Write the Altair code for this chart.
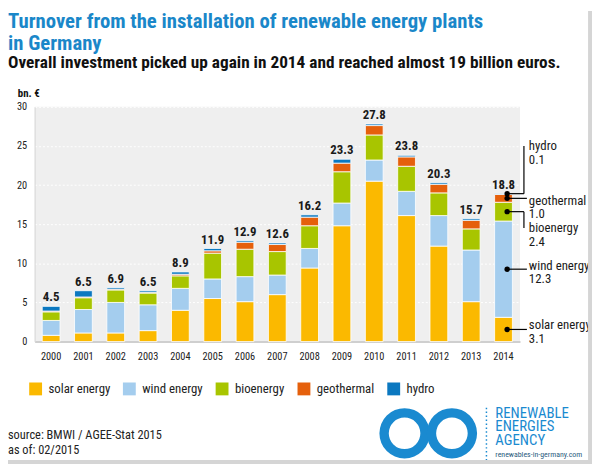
import altair as alt
import pandas as pd

# ---------------- data ----------------
years = ["2000", "2001", "2002", "2003", "2004", "2005", "2006", "2007",
         "2008", "2009", "2010", "2011", "2012", "2013", "2014"]
sources = ["solar energy", "wind energy", "bioenergy", "geothermal", "hydro"]
solar = [0.8, 1.1, 1.1, 1.4, 4.0, 5.5, 5.1, 6.0, 9.4, 14.8, 20.5, 16.1, 12.2, 5.1, 3.1]
wind = [1.9, 3.0, 3.9, 3.3, 2.8, 2.5, 3.2, 2.5, 2.5, 2.9, 2.7, 3.1, 3.9, 6.6, 12.3]
bio = [1.1, 1.5, 1.6, 1.5, 1.6, 3.3, 3.5, 3.0, 2.9, 4.0, 3.2, 3.2, 2.9, 2.7, 2.4]
geo = [0.1, 0.1, 0.1, 0.1, 0.2, 0.3, 0.9, 0.9, 1.1, 1.1, 1.2, 1.2, 1.1, 1.1, 1.0]
hydro = [0.6, 0.8, 0.2, 0.2, 0.3, 0.3, 0.2, 0.2, 0.3, 0.5, 0.2, 0.2, 0.2, 0.2, 0.1]
totals = [4.5, 6.5, 6.9, 6.5, 8.9, 11.9, 12.9, 12.6, 16.2, 23.3, 27.8, 23.8, 20.3, 15.7, 18.8]
y_ticks = [0, 5, 10, 15, 20, 25, 30]

# annotation for the last year (2014)
ann_names = ["hydro", "geothermal", "bioenergy", "wind energy", "solar energy"]
ann_values = ["0.1", "1.0", "2.4", "12.3", "3.1"]
ann_label_y = [25.0, 18.0, 14.5, 9.7, 2.1]

title1 = "Turnover from the installation of renewable energy plants"
title2 = "in Germany"
subtitle = "Overall investment picked up again in 2014 and reached almost 19 billion euros."
unit = "bn. €"
source1 = "source: BMWI / AGEE-Stat 2015"
source2 = "as of: 02/2015"
logo_lines = ["RENEWABLE", "ENERGIES", "AGENCY"]
logo_url = "renewables-in-germany.com"

colors = ["#fbb900", "#a4cdee", "#a8c500", "#e5600c", "#0b78c0"]
BLUE = "#1a87c9"
LOGO = "#1a8ad0"
FONT = "Liberation Sans Narrow, Roboto Condensed, DejaVu Sans Condensed, Roboto, sans-serif"

# ---------------- tables ----------------
series = [solar, wind, bio, geo, hydro]
rows = []
for si, (name, vals) in enumerate(zip(sources, series)):
    for yr, v in zip(years, vals):
        rows.append({"year": yr, "source": name, "value": v, "order": si})
df = pd.DataFrame(rows)

sums = [round(sum(s[i] for s in series), 2) for i in range(len(years))]
tot_df = pd.DataFrame({"year": years, "top": sums, "label": [f"{t:.1f}" for t in totals]})

# 2014 annotation geometry from the stacked values
last = [s[-1] for s in series]
cum = []
acc = 0.0
for v in last:
    cum.append((acc, acc + v))
    acc += v
dot_y = [cum[4][1], (cum[3][0] + cum[3][1]) / 2, (cum[2][0] + cum[2][1]) / 2,
         (cum[1][0] + cum[1][1]) / 2, (cum[0][0] + cum[0][1]) / 2]
ann_df = pd.DataFrame({"name": ann_names, "val": ann_values, "ly": ann_label_y, "dy": dot_y})

W, H = 492, 238
DOT_X, BEND_X, LABEL_X = 479, 496, 501

yscale = alt.Scale(domain=[0, 30], nice=False)
yaxis = alt.Axis(title=None, values=y_ticks, ticks=False, domain=True,
                 domainColor="#d6d6d6", labelPadding=8, labelFontSize=10.5,
                 labelColor="#222222", labelFont=FONT, grid=True,
                 labelOverlap=False,
                 gridColor="white", gridDash=[2, 2], gridWidth=1)
xscale = alt.Scale(paddingInner=0.45, paddingOuter=0.235)
xaxis = alt.Axis(title=None, labelAngle=0, ticks=False, domain=True,
                 domainColor="#cfcfcf", domainWidth=2, labelPadding=10,
                 labelFontSize=10.5, labelColor="#222222", labelFont=FONT)


def Y(field, **kw):
    return alt.Y(field, scale=yscale, axis=yaxis, **kw)


def X(field):
    return alt.X(field, sort=years, scale=xscale, axis=xaxis)


bars = alt.Chart(df).mark_bar(stroke="white", strokeWidth=0.8).encode(
    x=X("year:N"),
    y=Y("value:Q", stack="zero"),
    color=alt.Color("source:N",
                    scale=alt.Scale(domain=sources, range=colors),
                    legend=alt.Legend(title=None, orient="none", legendX=-6, legendY=279,
                                      direction="horizontal", symbolType="square",
                                      symbolSize=170, symbolStrokeWidth=0,
                                      labelFontSize=13, labelFont=FONT, labelColor="#222222",
                                      columnPadding=12, labelOffset=6)),
    order=alt.Order("order:Q"),
)

tot_text = alt.Chart(tot_df).mark_text(fontWeight="bold", fontSize=13, font=FONT,
                                        color="#1a1a1a", dy=-5, baseline="alphabetic").encode(
    x=X("year:N"), y=Y("top:Q"), text="label:N")

# annotations
dots = alt.Chart(ann_df).mark_point(filled=True, size=30, color="black", opacity=1).encode(
    x=alt.value(DOT_X), y=Y("dy:Q"))
hlines_straight = alt.Chart(ann_df.iloc[[1, 3, 4]]).mark_rule(color="black", strokeWidth=1.2).encode(
    x=alt.value(DOT_X), x2=alt.value(LABEL_X - 2), y=Y("dy:Q"))
hlines_bend = alt.Chart(ann_df.iloc[[0, 2]]).mark_rule(color="black", strokeWidth=1.2).encode(
    x=alt.value(DOT_X), x2=alt.value(BEND_X), y=Y("dy:Q"))
vlines_bend = alt.Chart(ann_df.iloc[[0, 2]]).mark_rule(color="black", strokeWidth=1.2).encode(
    x=alt.value(BEND_X), y=Y("dy:Q"), y2="ly:Q")
ann_names_t = alt.Chart(ann_df).mark_text(align="left", baseline="middle", fontSize=13,
                                          font=FONT, color="#1a1a1a").encode(
    x=alt.value(LABEL_X), y=Y("ly:Q"), text="name:N")
ann_vals_t = alt.Chart(ann_df).mark_text(align="left", baseline="middle", fontSize=13,
                                         font=FONT, color="#1a1a1a", dy=14).encode(
    x=alt.value(LABEL_X), y=Y("ly:Q"), text="val:N")


def txt(s, x, y, size, color="#1a1a1a", weight="normal", align="left", baseline="middle",
        font=FONT, **kw):
    return alt.Chart(pd.DataFrame({"t": [s]})).mark_text(
        align=align, baseline=baseline, fontSize=size, fontWeight=weight,
        color=color, font=font, **kw).encode(x=alt.value(x), y=alt.value(y), text="t:N")


texts = [
    txt(title1, -27, -86, 21, BLUE, "bold"),
    txt(title2, -27, -64, 21, BLUE, "bold"),
    txt(subtitle, -27, -44, 17.5, "#111111", "bold"),
    txt(unit, -17, -13, 11, "#111111", "bold"),
    txt(source1, -27, 333, 12.5, "#222222"),
    txt(source2, -27, 348, 12.5, "#222222"),
    txt("\n".join(logo_lines), 467, 310, 15, LOGO, lineBreak="\n", lineHeight=14),
    txt(logo_url, 467, 353, 8, "#2b5c7e"),
]


def ring(cx, cy):
    return alt.Chart(pd.DataFrame({"a": [0]})).mark_arc(
        innerRadius=16, outerRadius=25.5, theta=0, theta2=6.2832, color=LOGO).encode(
        x=alt.value(cx), y=alt.value(cy))


logo_rings = [ring(375, 331), ring(423, 331)]

logo_dots = alt.Chart(pd.DataFrame({"a": [0]})).mark_rule(
    color=LOGO, strokeDash=[1.5, 2.5], strokeWidth=1.5).encode(
    x=alt.value(458), y=alt.value(305), y2=alt.value(358))

border_r = alt.Chart(pd.DataFrame({"a": [0]})).mark_rule(color="#d5d5d5", strokeWidth=4).encode(
    x=alt.value(563), y=alt.value(-97), y2=alt.value(362))
border_b = alt.Chart(pd.DataFrame({"a": [0]})).mark_rule(color="#d5d5d5", strokeWidth=4).encode(
    x=alt.value(-27), x2=alt.value(565), y=alt.value(360))

chart = alt.layer(
    bars, tot_text, hlines_straight, hlines_bend, vlines_bend, dots,
    ann_names_t, ann_vals_t, logo_dots, *logo_rings, border_r, border_b, *texts
).properties(
    width=W, height=H,
    padding={"left": 27, "top": 97, "right": 73, "bottom": 124},
    autosize=alt.AutoSizeParams(type="none"),
    background="white",
).configure_view(fill="#efefef", stroke=None)

chart.save("out.html", embed_options={"renderer": "svg", "actions": False})
